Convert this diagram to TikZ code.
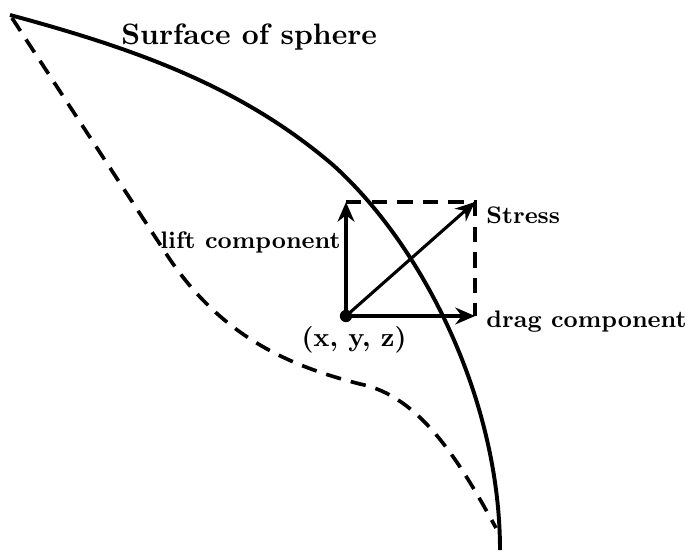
\documentclass[tikz,border=0pt]{standalone}
\usepackage{tikz}
\usetikzlibrary{arrows.meta,positioning}

\begin{document}
\begin{tikzpicture}[
    x=0.0125cm, y=-0.0125cm,
    surface/.style={draw, line width=1.4pt},
    hidden/.style={draw, line width=1.3pt, dash pattern=on 5.5pt off 3.6pt},
    vec/.style={draw, line width=1.1pt, -{Stealth[length=7pt,width=6pt]}},
    lbl/.style={font=\fontsize{8.5}{10}\selectfont\bfseries, inner sep=1pt}
  ]
  \useasboundingbox (0,0) rectangle (688,553);

  \coordinate (TIP)    at (10,15);
  \coordinate (BEND)   at (333,165);
  \coordinate (END)    at (500,550);
  \coordinate (KNEE)   at (165,252);
  \coordinate (FLAT)   at (360,384);
  \coordinate (MEET)   at (496,528);
  \coordinate (ORIGIN) at (346,316);
  \coordinate (LIFT)   at (346,202);
  \coordinate (DRAG)   at (475,316);
  \coordinate (STRESS) at (475,202);

  % outline of the sphere
  \draw[surface] (TIP) .. controls (140,50) and (243,88) .. (BEND)
                       .. controls (423,246) and (500,400) .. (END);
  \draw[hidden] (12,18) -- (KNEE) .. controls (220,337) and (290,366) .. (FLAT)
                        .. controls (420,396) and (460,462) .. (MEET);

  % stress and its components
  \draw[hidden, line width=1.1pt] (LIFT) -- (STRESS) -- (DRAG);
  \draw[vec] (ORIGIN) -- (LIFT);
  \draw[vec] (ORIGIN) -- (DRAG);
  \draw[vec] (ORIGIN) -- (STRESS);
  \fill (ORIGIN) circle (2.2pt);

  \node[lbl, anchor=west, font=\fontsize{10.5}{12}\selectfont\bfseries] (SURF) at (118,37) {Surface of sphere};
  \node[lbl, anchor=west] (STR)   at (483,215) {Stress};
  \node[lbl, anchor=west] (DRG)   at (483,322) {drag component};
  \node[lbl, anchor=east] (LFT)   at (344,242) {lift component};
  \node[lbl, font=\fontsize{9.5}{11}\selectfont\bfseries] (POINT) at (354,340) {(x, y, z)};
\end{tikzpicture}
\end{document}
